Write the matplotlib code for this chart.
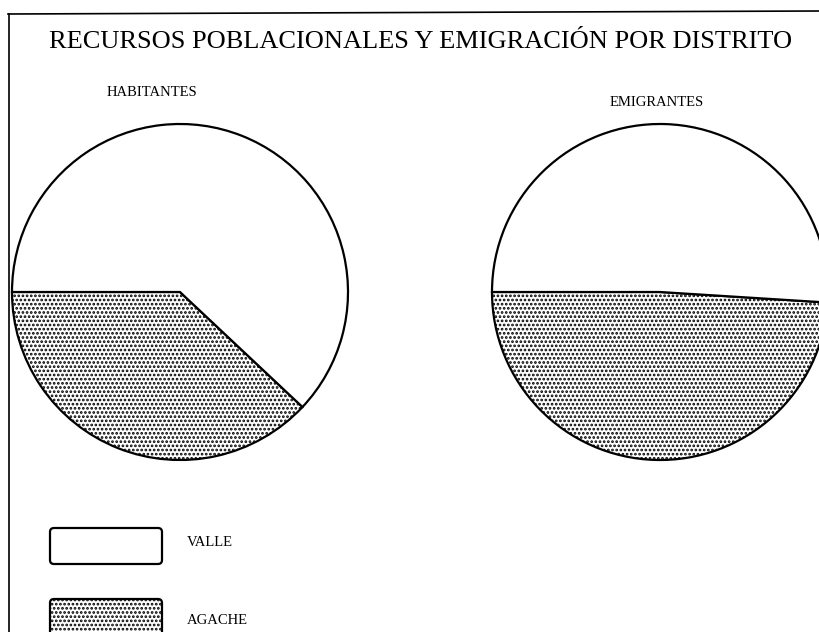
import matplotlib
matplotlib.use('Agg')
import matplotlib.pyplot as plt
from matplotlib.patches import FancyBboxPatch

plt.rcParams['font.family'] = ['Liberation Serif', 'DejaVu Serif']
plt.rcParams['hatch.linewidth'] = 1.3

# datos (porcentajes)
titulo = 'RECURSOS POBLACIONALES Y EMIGRACIÓN POR DISTRITO'
distritos = ['AGACHE', 'VALLE']
habitantes = [38, 62]
emigrantes = [49, 51]
subtitulos = ['HABITANTES', 'EMIGRANTES']
leyenda = ['VALLE', 'AGACHE']

W, H = 820, 632
fig = plt.figure(figsize=(8.2, 6.32), dpi=100)
ax = fig.add_axes([0, 0, 1, 1])

tramas = ['....', '']
borde = dict(edgecolor='black', linewidth=1.6)

# tortas
ax.pie(habitantes, colors=['white', 'white'], hatch=tramas, startangle=180,
       center=(180, H - 292), radius=168, frame=True, wedgeprops=borde)
ax.pie(emigrantes, colors=['white', 'white'], hatch=tramas, startangle=180,
       center=(660, H - 292), radius=168, frame=True, wedgeprops=borde)

# marco cortado del escaneo
ax.plot([8, W], [H - 14, H - 11], color='black', lw=1.2)
ax.plot([9, 9], [H - 14, 0], color='black', lw=1.2)

# textos
ax.text(421, H - 42, titulo, ha='center', va='center', fontsize=19)
ax.text(152, H - 92, subtitulos[0], ha='center', va='center', fontsize=10.5)
ax.text(657, H - 102, subtitulos[1], ha='center', va='center', fontsize=10.5)

# leyenda
ys_caja = [H - 564, H - 640]
ys_texto = [H - 542, H - 620]
for nombre, trama, yc, yt in zip(leyenda, ['', '....'], ys_caja, ys_texto):
    caja = FancyBboxPatch((50, yc), 112, 36 if trama == '' else 41,
                          boxstyle='round,pad=0,rounding_size=4',
                          facecolor='white', edgecolor='black', lw=1.6, hatch=trama)
    ax.add_patch(caja)
    ax.text(187, yt, nombre, ha='left', va='center', fontsize=10.5)

ax.set_xlim(0, W)
ax.set_ylim(0, H)
ax.set_aspect('equal')
ax.axis('off')

plt.savefig('out.png', dpi=100)
